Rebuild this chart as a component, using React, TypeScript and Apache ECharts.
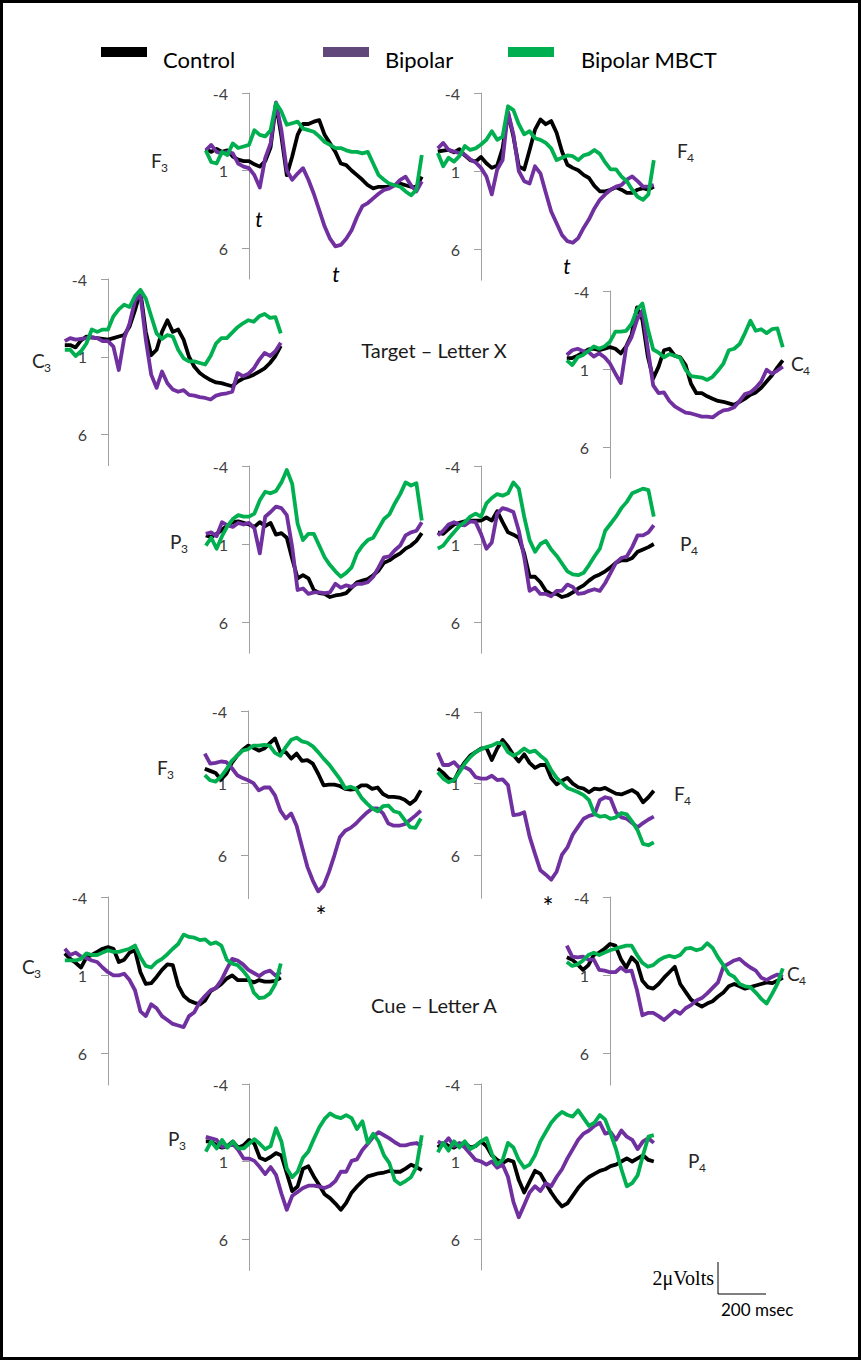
import React, { useEffect, useRef } from "react";
import * as echarts from "echarts";

const TIMES = [-200, -175, -150, -125, -100, -75, -50, -25, 0, 25, 50, 75, 100, 125, 150, 175, 200, 225, 250, 275, 300, 325, 350, 375, 400, 425, 450, 475, 500, 525, 550, 575, 600, 625, 650, 675, 700, 725, 750, 775, 800];

const GROUPS = ["Control", "Bipolar", "Bipolar MBCT"];
const TICKS = [-4, 1, 6];

// Target – Letter X
const T_F3_CONTROL = [-0.4, -0.2, -0.4, -0.2, -0.3, 0.1, 0.3, 0.4, 0.4, 0.6, 0.75, 0.4, -0.5, -3.3, -1.2, 1.3, 0.1, -1.3, -2.0, -2.0, -2.15, -2.25, -1.3, -0.75, -0.2, 0.55, 0.65, 1.0, 1.3, 1.6, 1.95, 2.15, 2.05, 2.05, 2.05, 1.95, 1.85, 1.95, 2.05, 2.05, 1.4];
const T_F3_BIPOLAR = [-0.3, -0.65, -0.2, -0.1, -0.2, -0.1, 0.55, 0.75, 0.85, 1.3, 2.1, 0.2, -0.75, -3.4, -1.6, 1.0, 1.6, 1.2, 0.85, 1.6, 2.5, 3.55, 4.6, 5.4, 5.9, 5.8, 5.4, 4.85, 4.0, 3.3, 3.1, 2.8, 2.5, 2.25, 2.15, 1.95, 1.6, 1.4, 1.95, 2.35, 1.7];
const T_F3_MBCT = [-0.3, 0.45, 0.55, -0.2, 0.0, -0.75, -0.45, -0.55, -0.65, -1.6, -1.3, -1.2, -1.6, -3.35, -2.8, -1.95, -2.05, -2.15, -1.7, -1.6, -1.5, -1.2, -0.85, -0.65, -0.45, -0.45, -0.3, -0.2, -0.2, -0.1, -0.2, 0.55, 1.3, 1.6, 1.85, 1.95, 2.05, 2.35, 2.6, 2.25, 0.0];

const T_F4_CONTROL = [-0.25, -0.3, -0.35, -0.2, -0.4, 0.0, 0.3, 0.4, 0.1, 0.5, 0.8, 0.65, -0.45, -2.7, -1.2, 0.7, 0.9, -0.35, -1.65, -2.3, -2.0, -2.2, -1.45, -0.25, 0.6, 0.8, 0.95, 1.25, 1.45, 1.95, 2.3, 2.3, 2.2, 2.05, 2.2, 2.4, 2.4, 2.2, 2.1, 2.2, 2.0];
const T_F4_BIPOLAR = [-0.45, -0.8, -0.35, -0.25, -0.15, -0.05, 0.25, 0.45, 0.8, 1.35, 2.5, 0.9, 0.3, -2.8, -1.35, 1.0, 1.65, 1.8, 0.7, 1.15, 2.4, 3.6, 4.35, 5.1, 5.5, 5.6, 5.3, 4.65, 4.1, 3.4, 2.85, 2.5, 2.2, 2.0, 1.9, 1.55, 1.35, 1.65, 2.0, 2.0, 1.9];
const T_F4_MBCT = [-0.15, 0.7, 0.15, 0.4, 0.05, -0.6, -0.35, -0.45, -0.7, -1.0, -1.55, -1.0, -1.2, -3.15, -2.9, -2.0, -1.35, -1.55, -1.1, -1.0, -0.8, -0.45, 0.3, 0.15, 0.0, 0.05, 0.3, 0.0, -0.1, -0.35, -0.1, 0.45, 0.9, 0.9, 1.35, 1.65, 2.2, 2.65, 2.85, 2.5, 0.3];

const T_C3_CONTROL = [0.25, 0.25, 0.4, -0.05, -0.3, -0.25, -0.2, -0.15, -0.1, -0.2, -0.3, -0.4, -0.95, -2.0, -3.2, -0.6, 0.9, 0.55, -0.6, -1.35, -0.6, -0.75, -0.1, 1.0, 1.65, 2.05, 2.3, 2.5, 2.65, 2.7, 2.8, 2.9, 2.6, 2.4, 2.3, 2.15, 1.95, 1.75, 1.4, 0.95, 0.3];
const T_C3_BIPOLAR = [0.0, -0.2, -0.1, -0.15, -0.2, -0.25, -0.2, 0.0, 0.0, 0.35, 1.85, -0.2, -1.15, -2.6, -3.0, -0.1, 2.15, 3.0, 1.95, 2.7, 3.1, 3.25, 3.15, 3.45, 3.5, 3.6, 3.65, 3.75, 3.5, 3.4, 3.35, 3.25, 2.05, 2.25, 2.1, 1.75, 1.2, 0.75, 0.95, 0.65, 0.1];
const T_C3_MBCT = [0.55, 0.55, 0.95, 0.65, 0.15, -0.75, -0.6, -0.75, -0.75, -1.6, -2.05, -2.35, -2.2, -2.9, -3.3, -2.75, -1.6, -0.5, -0.15, -0.4, -0.3, 0.55, 1.1, 1.3, 1.3, 1.4, 1.5, 0.95, 0.15, -0.2, -0.2, -0.55, -0.9, -1.15, -1.35, -1.25, -1.6, -1.75, -1.5, -1.55, -0.5];

const T_C4_CONTROL = [0.3, 0.3, 0.15, -0.05, -0.25, -0.3, -0.2, -0.3, -0.4, -0.3, 0.0, -0.45, -1.2, -2.95, -2.15, 0.2, 1.6, 0.85, -0.2, -0.3, 0.15, 0.25, 0.75, 1.95, 2.55, 2.55, 2.75, 2.9, 3.05, 3.1, 3.2, 3.3, 3.1, 2.9, 2.65, 2.5, 2.2, 1.8, 1.4, 0.9, 0.45];
const T_C4_BIPOLAR = [0.1, -0.2, -0.3, -0.15, -0.1, 0.2, 0.0, 0.25, 0.65, 1.3, 1.9, -0.4, -1.05, -2.15, -2.75, -0.3, 2.05, 2.55, 2.5, 3.05, 3.4, 3.6, 3.8, 3.85, 3.95, 4.05, 4.05, 4.1, 3.85, 3.65, 3.6, 3.45, 3.05, 2.6, 2.5, 2.2, 1.8, 1.05, 1.3, 1.1, 0.85];
const T_C4_MBCT = [0.45, 0.75, 0.25, 0.1, -0.15, -0.45, -0.3, -0.45, -0.75, -1.4, -1.4, -1.45, -1.9, -2.8, -3.2, -1.6, -0.25, -0.05, 0.25, 0.05, 0.15, 0.3, 1.05, 1.45, 1.5, 1.55, 1.7, 1.5, 1.1, 0.65, -0.2, -0.3, -0.6, -1.3, -2.1, -1.45, -1.55, -1.3, -1.55, -1.6, -0.4];

const T_P3_CONTROL = [0.45, 0.55, 0.35, 0.1, -0.2, -0.4, -0.45, -0.35, -0.25, -0.1, -0.4, -0.15, -0.35, 0.4, 0.3, 0.6, 1.95, 3.2, 3.0, 3.2, 3.95, 4.15, 4.2, 4.4, 4.3, 4.25, 4.15, 3.8, 3.45, 3.35, 3.25, 3.0, 2.7, 2.2, 2.05, 1.8, 1.6, 1.3, 1.1, 0.8, 0.3];
const T_P3_BIPOLAR = [0.35, 0.25, 0.5, -0.4, -0.2, -0.1, -0.35, -0.25, -0.35, 0.0, 1.6, -0.75, -1.05, -1.4, -1.3, -0.85, 1.2, 3.95, 3.85, 4.2, 4.1, 4.1, 4.15, 4.1, 3.55, 3.8, 3.65, 3.75, 3.55, 3.55, 3.45, 3.1, 2.5, 1.85, 1.8, 1.4, 1.1, 0.45, 0.25, 0.15, -0.4];
const T_P3_MBCT = [1.1, 0.6, 1.3, 0.5, -0.15, -0.6, -0.85, -0.75, -0.75, -0.95, -1.8, -2.35, -2.25, -2.4, -2.95, -3.75, -2.85, -0.3, 0.75, 0.35, 0.35, 1.1, 1.85, 2.35, 2.75, 3.1, 2.85, 2.5, 1.6, 1.1, 0.75, 0.6, 0.0, -0.6, -0.9, -1.6, -2.2, -2.95, -2.75, -2.9, -0.5];

const T_P4_CONTROL = [0.25, 0.35, 0.05, -0.25, -0.35, -0.45, -0.5, -0.5, -0.5, -0.7, -0.5, -1.1, -0.4, 0.25, 0.4, 0.6, 1.6, 3.1, 3.1, 3.45, 4.0, 4.2, 4.2, 4.4, 4.3, 4.1, 3.85, 3.65, 3.35, 3.1, 2.95, 2.75, 2.5, 2.2, 2.05, 2.05, 1.9, 1.5, 1.35, 1.2, 1.0];
const T_P4_BIPOLAR = [0.45, 0.15, -0.25, -0.4, -0.25, -0.2, -0.45, -0.4, 0.35, 1.3, 0.9, -0.95, -1.3, -1.2, -1.05, 0.15, 1.85, 4.0, 3.8, 4.2, 4.2, 4.35, 4.0, 4.0, 3.6, 3.75, 4.2, 4.15, 4.0, 3.9, 4.0, 3.5, 2.85, 2.2, 1.9, 1.8, 1.2, 0.45, 0.45, 0.25, -0.2];
const T_P4_MBCT = [1.3, 1.1, 0.65, 0.25, -0.15, -0.4, -0.75, -0.95, -0.75, -1.6, -1.95, -2.2, -2.1, -2.25, -2.95, -2.55, -0.75, 0.75, 1.5, 1.0, 0.8, 1.35, 1.75, 2.25, 2.75, 2.95, 3.0, 2.85, 2.35, 1.8, 1.3, 0.15, -0.3, -0.75, -1.3, -1.7, -2.25, -2.4, -2.55, -2.45, -0.75];

// Cue – Letter A
const C_F3_CONTROL = [0.0, 0.15, 0.3, 0.75, 0.35, -0.4, -0.9, -1.3, -1.6, -1.45, -1.25, -1.4, -1.75, -2.1, -1.15, -1.15, -0.7, -1.05, -0.55, -0.6, -0.35, 0.35, 1.15, 1.1, 1.1, 1.2, 1.4, 1.45, 1.4, 1.15, 1.15, 1.4, 1.3, 1.75, 1.95, 1.95, 2.0, 2.15, 2.45, 2.15, 1.5];
const C_F3_BIPOLAR = [-1.05, -0.35, -0.4, -0.5, -0.45, -0.05, 0.45, 0.65, 0.8, 1.0, 1.5, 1.3, 1.3, 1.85, 2.9, 3.45, 3.1, 3.95, 5.4, 6.8, 7.75, 8.5, 8.1, 7.15, 6.0, 4.75, 4.3, 4.1, 3.8, 3.4, 3.05, 2.75, 2.75, 3.1, 3.8, 3.95, 3.95, 3.85, 3.55, 3.25, 2.9];
const C_F3_MBCT = [0.45, 0.8, 0.9, 0.55, 0.05, -0.55, -0.9, -1.25, -1.35, -1.6, -1.6, -1.65, -1.6, -1.1, -0.9, -1.5, -2.0, -2.15, -1.9, -1.8, -1.55, -1.15, -0.7, -0.3, 0.2, 0.7, 1.35, 1.25, 1.4, 2.0, 2.4, 2.75, 2.95, 2.6, 2.55, 2.95, 3.05, 3.55, 4.05, 4.1, 3.45];

const C_F4_CONTROL = [-0.05, 0.25, 0.65, 0.8, 0.05, -0.5, -0.95, -1.2, -1.45, -1.5, -0.65, -1.45, -2.05, -1.6, -1.0, -0.55, -1.05, -0.45, -0.1, -0.3, -0.3, 0.6, 1.05, 0.8, 0.6, 1.0, 1.25, 1.35, 1.6, 1.35, 1.4, 1.3, 1.5, 1.7, 1.75, 1.6, 1.45, 1.7, 2.3, 1.95, 1.5];
const C_F4_BIPOLAR = [-1.15, -0.3, -0.3, -0.5, -0.1, -0.15, 0.05, 0.55, 0.65, 0.65, 0.45, 0.75, 0.7, 1.1, 3.2, 3.15, 3.0, 4.7, 5.9, 7.05, 7.35, 7.7, 7.15, 5.95, 5.45, 4.55, 4.0, 3.45, 3.25, 3.15, 2.15, 1.95, 2.05, 3.0, 3.35, 3.45, 3.75, 4.05, 3.75, 3.5, 3.3];
const C_F4_MBCT = [0.2, 0.65, 0.9, 0.75, 0.2, -0.4, -0.85, -1.2, -1.4, -1.55, -1.65, -1.85, -1.8, -1.2, -0.95, -1.15, -1.45, -1.2, -1.3, -0.95, -0.65, 0.05, 0.6, 0.95, 1.3, 1.45, 1.6, 1.8, 2.15, 3.1, 3.3, 3.25, 3.45, 3.35, 3.05, 3.15, 3.65, 4.25, 5.2, 5.3, 5.1];

const C_C3_CONTROL = [-0.4, -0.05, 0.2, 0.5, -0.15, -0.3, -0.5, -0.7, -0.8, -0.7, 0.15, 0.0, -0.45, -0.6, 0.8, 1.55, 1.5, 1.1, 0.65, 0.3, 0.35, 1.65, 2.3, 2.6, 2.75, 2.85, 2.6, 2.0, 1.8, 1.55, 1.2, 1.0, 1.3, 1.3, 1.3, 1.45, 1.3, 1.4, 1.4, 1.35, 1.15];
const C_C3_BIPOLAR = [-0.7, -0.3, -0.45, -0.2, -0.1, 0.05, 0.15, 0.5, 0.8, 1.0, 1.0, 0.9, 1.3, 1.95, 3.3, 3.6, 2.85, 3.1, 3.6, 3.85, 4.1, 4.2, 4.3, 3.6, 3.35, 2.7, 2.3, 1.95, 1.8, 1.3, 0.6, -0.05, 0.05, 0.3, 0.65, 0.85, 1.05, 0.8, 0.7, 1.0, 0.8];
const C_C3_MBCT = [0.05, 0.05, 0.05, -0.05, -0.4, -0.3, -0.3, -0.45, -0.6, -0.5, -0.5, -0.6, -0.7, -0.9, -0.15, 0.4, 0.5, 0.15, -0.05, -0.35, -0.7, -1.0, -1.6, -1.45, -1.4, -1.25, -1.3, -1.0, -1.1, -0.9, 0.0, 0.25, 0.35, 0.7, 1.15, 2.1, 2.45, 2.4, 2.15, 1.55, 0.25];

const C_C4_CONTROL = [-0.15, 0.0, 0.3, 0.65, 0.35, -0.3, -0.45, -0.7, -1.0, -0.9, -0.05, 0.5, -0.15, 0.2, 1.35, 1.75, 1.85, 1.55, 1.15, 0.8, 0.45, 1.55, 2.05, 2.55, 2.8, 3.0, 2.8, 2.65, 2.35, 2.1, 1.7, 1.55, 1.7, 1.85, 1.75, 1.65, 1.55, 1.45, 1.5, 1.35, 1.15];
const C_C4_BIPOLAR = [-0.9, -0.2, -0.15, -0.2, 0.0, 0.0, 0.65, 0.7, 0.8, 0.8, 0.5, 0.75, 0.7, 1.95, 3.55, 3.4, 3.4, 3.6, 3.85, 3.55, 3.25, 3.45, 3.1, 2.9, 2.6, 2.45, 2.15, 1.8, 1.45, 0.45, 0.25, 0.05, -0.05, 0.25, 0.5, 0.7, 1.15, 1.3, 1.1, 0.95, 1.1];
const C_C4_MBCT = [0.15, 0.4, 0.3, 0.05, -0.3, -0.45, -0.3, -0.45, -0.6, -0.7, -0.8, -0.9, -0.9, -0.3, 0.2, 0.45, 0.35, 0.05, -0.15, -0.25, -0.15, -0.3, -0.7, -0.75, -0.6, -0.7, -1.05, -0.75, -0.15, 0.35, 0.9, 1.1, 1.55, 1.7, 1.75, 2.1, 2.5, 2.8, 2.2, 1.55, 0.55];

const C_P3_CONTROL = [-0.3, -0.3, -0.05, 0.1, 0.0, -0.3, 0.1, -0.05, -0.4, -0.15, 0.75, 0.9, 0.7, 0.45, 0.6, 1.75, 2.9, 2.6, 1.45, 1.3, 1.95, 2.5, 3.1, 3.35, 3.7, 4.1, 3.65, 3.0, 2.6, 2.25, 1.95, 1.85, 1.75, 1.7, 1.6, 1.65, 1.65, 1.45, 1.2, 1.35, 1.55];
const C_P3_BIPOLAR = [-0.6, -0.5, -0.4, 0.05, 0.0, -0.15, 0.25, 0.8, 0.8, 0.95, 1.35, 1.8, 1.35, 1.85, 3.05, 4.1, 3.2, 2.95, 2.7, 2.55, 2.55, 2.6, 2.7, 2.55, 2.25, 1.65, 1.65, 0.95, 0.85, 0.25, -0.15, -0.6, -0.9, -0.7, -0.5, -0.25, -0.05, -0.05, -0.15, -0.2, 0.0];
const C_P3_MBCT = [0.35, -0.3, 0.15, -0.4, 0.1, -0.3, 0.15, 0.15, -0.15, -0.45, -0.15, 0.2, 0.0, -1.15, -0.3, 1.45, 2.0, 1.65, 0.75, 0.35, -0.45, -1.2, -1.75, -2.1, -1.9, -1.8, -2.0, -1.8, -1.1, -1.6, -0.2, -0.8, -0.3, 0.6, 1.1, 2.2, 2.45, 2.25, 2.0, 1.35, -0.7];

const C_P4_CONTROL = [0.1, -0.2, 0.0, 0.1, -0.1, -0.2, 0.1, 0.0, -0.3, 0.0, 0.6, 0.9, 1.1, 0.9, 1.0, 2.2, 3.0, 2.3, 1.6, 1.8, 2.4, 3.0, 3.5, 3.9, 3.7, 3.2, 2.7, 2.3, 2.0, 1.8, 1.6, 1.5, 1.3, 1.2, 1.0, 0.8, 1.0, 0.8, 0.6, 0.9, 1.0];
const C_P4_BIPOLAR = [-0.3, -0.1, -0.5, 0.0, -0.2, 0.1, 0.5, 0.9, 1.0, 1.2, 1.0, 1.4, 1.2, 2.0, 3.6, 4.6, 3.8, 3.0, 2.6, 2.9, 2.4, 2.6, 2.0, 1.5, 0.8, 0.2, -0.4, -0.8, -1.0, -1.3, -1.5, -0.8, -0.9, -0.4, -1.0, -0.6, -0.4, 0.2, -0.3, -0.5, -0.2];
const C_P4_MBCT = [0.4, -0.2, 0.3, -0.3, 0.1, -0.3, 0.2, 0.0, -0.3, -0.5, 0.5, 1.2, 0.9, -0.2, 0.1, 0.9, 1.4, 1.2, 0.6, -0.3, -0.9, -1.5, -1.9, -2.2, -2.0, -1.9, -2.3, -1.8, -1.3, -1.5, -2.0, -1.7, -0.8, 0.2, 1.5, 2.6, 2.4, 1.9, 0.6, -0.6, -0.7];

const PANEL_DATA = [
  [T_F3_CONTROL, T_F3_BIPOLAR, T_F3_MBCT],
  [T_F4_CONTROL, T_F4_BIPOLAR, T_F4_MBCT],
  [T_C3_CONTROL, T_C3_BIPOLAR, T_C3_MBCT],
  [T_C4_CONTROL, T_C4_BIPOLAR, T_C4_MBCT],
  [T_P3_CONTROL, T_P3_BIPOLAR, T_P3_MBCT],
  [T_P4_CONTROL, T_P4_BIPOLAR, T_P4_MBCT],
  [C_F3_CONTROL, C_F3_BIPOLAR, C_F3_MBCT],
  [C_F4_CONTROL, C_F4_BIPOLAR, C_F4_MBCT],
  [C_C3_CONTROL, C_C3_BIPOLAR, C_C3_MBCT],
  [C_C4_CONTROL, C_C4_BIPOLAR, C_C4_MBCT],
  [C_P3_CONTROL, C_P3_BIPOLAR, C_P3_MBCT],
  [C_P4_CONTROL, C_P4_BIPOLAR, C_P4_MBCT],
];

// layout (pixels) – kept apart from the data
const LAYOUT = [
  { axisX: 249, top: 93, ppu: 15.5, ymax: 8, letter: "F", sub: "3", lx: 151, ly: 160 },
  { axisX: 481, top: 93, ppu: 15.6, ymax: 8, letter: "F", sub: "4", lx: 677, ly: 150 },
  { axisX: 108, top: 279, ppu: 15.55, ymax: 8, letter: "C", sub: "3", lx: 32, ly: 360 },
  { axisX: 610, top: 291, ppu: 15.6, ymax: 8, letter: "C", sub: "4", lx: 791, ly: 363 },
  { axisX: 249, top: 466, ppu: 15.6, ymax: 8, letter: "P", sub: "3", lx: 170, ly: 541 },
  { axisX: 481, top: 466, ppu: 15.6, ymax: 8, letter: "P", sub: "4", lx: 680, ly: 543 },
  { axisX: 248, top: 711, ppu: 14.43, ymax: 9, letter: "F", sub: "3", lx: 157, ly: 767 },
  { axisX: 481, top: 712, ppu: 14.33, ymax: 9, letter: "F", sub: "4", lx: 674, ly: 793 },
  { axisX: 108, top: 897, ppu: 15.67, ymax: 8, letter: "C", sub: "3", lx: 22, ly: 966 },
  { axisX: 610, top: 897, ppu: 15.67, ymax: 8, letter: "C", sub: "4", lx: 787, ly: 973 },
  { axisX: 249, top: 1084, ppu: 15.53, ymax: 8, letter: "P", sub: "3", lx: 168, ly: 1138 },
  { axisX: 481, top: 1084, ppu: 15.5, ymax: 8, letter: "P", sub: "4", lx: 688, ly: 1160 },
];

const COLORS = ["#000000", "#7030A0", "#00B050"];
const FONT = 'Lato, "Open Sans", "DejaVu Sans", sans-serif';
const PX_PER_MS = 0.216;
const PRE = 200 * PX_PER_MS;
// legend swatch: 46x10 bar drawn in the top part of a 46x24 item box
const LEGEND_ICON = "path://M0,0H46V10H0Z M45.99,23.99H46V24H45.99Z";

function buildOption() {
  const grid: any[] = [];
  const xAxis: any[] = [];
  const yAxis: any[] = [];
  const series: any[] = [];
  const graphics: any[] = [];

  LAYOUT.forEach((p, i) => {
    grid.push({ left: p.axisX - PRE, top: p.top, width: 1000 * PX_PER_MS, height: (p.ymax + 4) * p.ppu });
    xAxis.push({ gridIndex: i, type: "value", min: -200, max: 800, show: false });
    yAxis.push({
      gridIndex: i,
      type: "value",
      inverse: true,
      min: -4,
      max: p.ymax,
      interval: 5,
      offset: -PRE,
      axisLine: { show: true, onZero: false, lineStyle: { color: "#a0a0a0", width: 1 } },
      axisTick: { show: true, length: 7, lineStyle: { color: "#a0a0a0" }, customValues: TICKS },
      axisLabel: {
        margin: 21,
        fontSize: 16,
        color: "#404040",
        fontFamily: FONT,
        customValues: TICKS,
        formatter: (v: number) => (TICKS.indexOf(v) >= 0 ? String(v) : ""),
      },
      splitLine: { show: false },
    });
    PANEL_DATA[i].forEach((arr, j) => {
      series.push({
        type: "line",
        name: GROUPS[j],
        xAxisIndex: i,
        yAxisIndex: i,
        data: TIMES.map((t, k) => [t, arr[k]]),
        showSymbol: false,
        symbol: "none",
        clip: false,
        silent: true,
        z: 2 + j,
        lineStyle: { color: COLORS[j], width: 3.8, join: "round" },
        itemStyle: { color: COLORS[j] },
      });
    });
    const lw = p.letter === "F" ? 10 : p.letter === "C" ? 12 : 11;
    graphics.push({ type: "text", x: p.lx, y: p.ly, style: { text: p.letter, fontSize: 19, fontFamily: FONT, fill: "#262626", verticalAlign: "middle", align: "left" } });
    graphics.push({ type: "text", x: p.lx + lw, y: p.ly + 7, style: { text: p.sub, fontSize: 12, fontFamily: FONT, fill: "#262626", verticalAlign: "middle", align: "left" } });
  });

  const txt = (x: number, y: number, text: string, size: number, extra: any = {}) => ({
    type: "text",
    x,
    y,
    style: { text, fontSize: size, fontFamily: FONT, fill: "#000", align: "center", verticalAlign: "middle", ...extra },
  });

  graphics.push(txt(434, 350, "Target – Letter X", 20, { fill: "#1a1a1a" }));
  graphics.push(txt(434, 1005, "Cue – Letter A", 20, { fill: "#1a1a1a" }));
  graphics.push(txt(259, 218, "t", 21, { fontStyle: "italic" }));
  graphics.push(txt(336, 273, "t", 21, { fontStyle: "italic" }));
  graphics.push(txt(567, 265, "t", 21, { fontStyle: "italic" }));
  graphics.push(txt(321, 916, "*", 26));
  graphics.push(txt(548, 907, "*", 26));
  // scale bar
  graphics.push(txt(714, 1278, "2μVolts", 20, { align: "right", fontFamily: '"Liberation Serif", "DejaVu Serif", serif' }));
  graphics.push({ type: "line", shape: { x1: 718, y1: 1262, x2: 718, y2: 1294 }, style: { stroke: "#000", lineWidth: 1 } });
  graphics.push({ type: "line", shape: { x1: 718, y1: 1294, x2: 766, y2: 1294 }, style: { stroke: "#000", lineWidth: 1 } });
  graphics.push(txt(721, 1309, "200 msec", 17, { align: "left" }));
  // frame
  graphics.push({ type: "rect", z: 100, shape: { x: 1.5, y: 1.5, width: 858, height: 1357 }, style: { fill: "none", stroke: "#000", lineWidth: 3 } });

  const legendBase = {
    icon: LEGEND_ICON,
    itemWidth: 46,
    itemHeight: 24,
    padding: 0,
    selectedMode: false,
  };
  const legendText = (gap: number) => ({ fontSize: 22, color: "#000", fontFamily: FONT, padding: [0, 0, 0, gap] });
  const legend = [
    { ...legendBase, left: 101, top: 47, data: [{ name: "Control" }], textStyle: legendText(11) },
    { ...legendBase, left: 323, top: 47, data: [{ name: "Bipolar", itemStyle: { color: "#60497A" } }], textStyle: legendText(11) },
    { ...legendBase, left: 508, top: 47, data: [{ name: "Bipolar MBCT" }], textStyle: legendText(22) },
  ];

  return {
    animation: false,
    backgroundColor: "#ffffff",
    legend,
    grid,
    xAxis,
    yAxis,
    series,
    graphic: { elements: graphics },
  };
}

export default function App() {
  const ref = useRef<HTMLDivElement>(null);
  useEffect(() => {
    document.body.style.margin = "0";
    if (!ref.current) return;
    const chart = echarts.init(ref.current, null, { renderer: "svg" });
    chart.setOption(buildOption() as any);
    return () => chart.dispose();
  }, []);
  return <div ref={ref} style={{ width: 861, height: 1360 }} />;
}
